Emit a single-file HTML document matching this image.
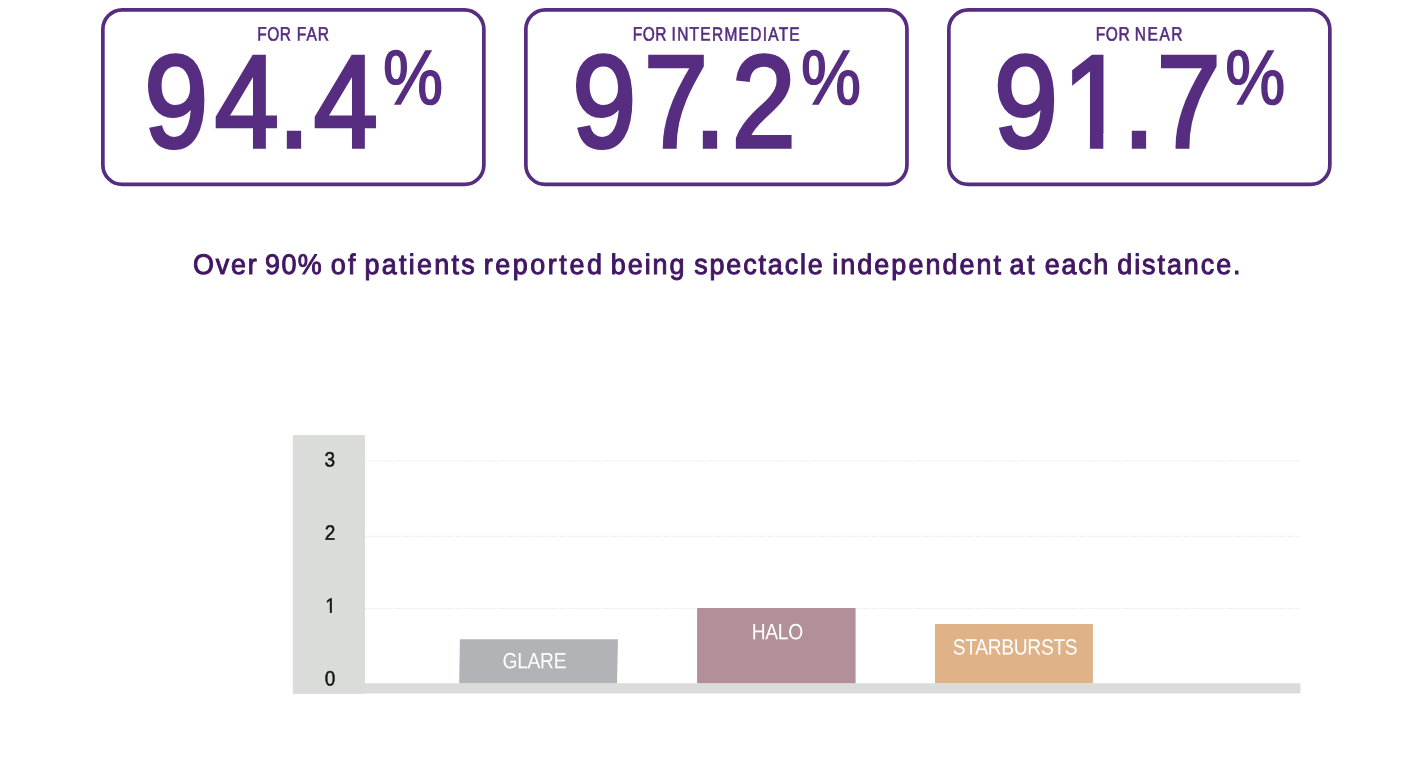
<!DOCTYPE html>
<html lang="en"><head><meta charset="utf-8"><title>Spectacle independence</title>
<style>html,body{margin:0;padding:0;background:#fff}body{width:1408px;height:770px;overflow:hidden}svg{display:block}text{white-space:pre}</style></head><body>
<svg width="1408" height="770" viewBox="0 0 1408 770">
<g class="stat-cards">
<rect x="102.85" y="9.85" width="381.00" height="174.60" rx="19.5" ry="19.5" fill="none" stroke="#562d80" stroke-width="3.7"/>
<rect x="525.85" y="9.85" width="381.10" height="174.60" rx="19.5" ry="19.5" fill="none" stroke="#562d80" stroke-width="3.7"/>
<rect x="948.85" y="9.85" width="381.00" height="174.60" rx="19.5" ry="19.5" fill="none" stroke="#562d80" stroke-width="3.7"/>
<text transform="matrix(0.8100 0.0006 0 1 0 40.58)" font-family="Liberation Sans, sans-serif" font-weight="normal" font-size="19.17" fill="#562d80" stroke="#562d80" stroke-width="0.60" stroke-linejoin="miter" stroke-miterlimit="3" ><tspan x="317.72" y="-0.191" style="letter-spacing:0.490px">FOR</tspan> <tspan x="366.39" y="-0.220" style="letter-spacing:1.258px">FAR</tspan></text>
<text transform="matrix(0.8100 0.0006 0 1 0 40.58)" font-family="Liberation Sans, sans-serif" font-weight="normal" font-size="19.17" fill="#562d80" stroke="#562d80" stroke-width="0.60" stroke-linejoin="miter" stroke-miterlimit="3" ><tspan x="781.18" y="-0.469" style="letter-spacing:0.607px">FOR</tspan> <tspan x="829.15" y="-0.497" style="letter-spacing:1.537px">INTERMEDIATE</tspan></text>
<text transform="matrix(0.8100 0.0006 0 1 0 40.58)" font-family="Liberation Sans, sans-serif" font-weight="normal" font-size="19.17" fill="#562d80" stroke="#562d80" stroke-width="0.60" stroke-linejoin="miter" stroke-miterlimit="3" ><tspan x="1352.66" y="-0.812" style="letter-spacing:0.864px">FOR</tspan> <tspan x="1401.06" y="-0.841" style="letter-spacing:1.895px">NEAR</tspan></text>
<text transform="matrix(0.8768 0.0006 0 1 0 146.80)" font-family="Liberation Sans, sans-serif" font-weight="normal" font-size="131.06" fill="#562d80" stroke="#562d80" stroke-width="3.80" stroke-linejoin="miter" stroke-miterlimit="3"  x="164.61 244.94 317.06 357.92" y="-0.099 -0.147 -0.190 -0.215">94.4</text>
<text transform="matrix(0.8768 0.0006 0 1 0 146.80)" font-family="Liberation Sans, sans-serif" font-weight="normal" font-size="131.06" fill="#562d80" stroke="#562d80" stroke-width="3.80" stroke-linejoin="miter" stroke-miterlimit="3"  x="652.72 734.57 791.59 834.54" y="-0.392 -0.441 -0.475 -0.501">97.2</text>
<text transform="matrix(0.8768 0.0006 0 1 0 146.80)" font-family="Liberation Sans, sans-serif" font-weight="normal" font-size="131.06" fill="#562d80" stroke="#562d80" stroke-width="3.80" stroke-linejoin="miter" stroke-miterlimit="3"  x="1133.81 1211.95 1280.78 1319.28" y="-0.680 -0.727 -0.768 -0.792">91.7</text>
<rect x="1068.50" y="133.94" width="21.43" height="15.56" fill="#fff"/>
<rect x="1103.32" y="133.94" width="20.28" height="15.56" fill="#fff"/>
<text transform="matrix(0.8767 0.0006 0 1 0 104.02)" font-family="Liberation Sans, sans-serif" font-weight="normal" font-size="77.02" fill="#562d80" stroke="#562d80" stroke-width="1.60" stroke-linejoin="miter" stroke-miterlimit="3"  x="436.90" y="-0.262">%</text>
<text transform="matrix(0.8767 0.0006 0 1 0 104.02)" font-family="Liberation Sans, sans-serif" font-weight="normal" font-size="77.02" fill="#562d80" stroke="#562d80" stroke-width="1.60" stroke-linejoin="miter" stroke-miterlimit="3"  x="913.53" y="-0.548">%</text>
<text transform="matrix(0.8767 0.0006 0 1 0 104.02)" font-family="Liberation Sans, sans-serif" font-weight="normal" font-size="77.02" fill="#562d80" stroke="#562d80" stroke-width="1.60" stroke-linejoin="miter" stroke-miterlimit="3"  x="1397.45" y="-0.838">%</text>
</g>
<g class="headline">
<text transform="matrix(0.9500 0.0006 0 1 0 274.02)" font-family="Liberation Sans, sans-serif" font-weight="normal" font-size="28.35" fill="#411663" stroke="#411663" stroke-width="1.00" stroke-linejoin="round" stroke-miterlimit="3" ><tspan x="203.26" y="-0.122" style="letter-spacing:1.827px">Over</tspan> <tspan x="279.06" y="-0.167" style="letter-spacing:1.476px">90%</tspan> <tspan x="348.04" y="-0.209" style="letter-spacing:2.622px">of</tspan> <tspan x="383.56" y="-0.230" style="letter-spacing:2.419px">patients</tspan> <tspan x="509.16" y="-0.305" style="letter-spacing:2.695px">reported</tspan> <tspan x="643.03" y="-0.386" style="letter-spacing:2.014px">being</tspan> <tspan x="730.73" y="-0.438" style="letter-spacing:1.955px">spectacle</tspan> <tspan x="876.07" y="-0.526" style="letter-spacing:2.157px">independent</tspan> <tspan x="1062.77" y="-0.638" style="letter-spacing:2.550px">at</tspan> <tspan x="1099.83" y="-0.660" style="letter-spacing:1.803px">each</tspan> <tspan x="1176.05" y="-0.706" style="letter-spacing:2.045px">distance.</tspan></text>
</g>
<g class="chart">
<rect x="292.8" y="435.1" width="72.20" height="258.70" fill="#dadcd9"/>
<rect x="293" y="683.3" width="1007.40" height="10.20" fill="#dadcd9"/>
<line x1="365" y1="460.9" x2="1300.4" y2="460.9" stroke="#e4e4e4" stroke-width="1" stroke-dasharray="1.3 1.3"/>
<line x1="365" y1="536.3" x2="1300.4" y2="536.3" stroke="#e4e4e4" stroke-width="1" stroke-dasharray="1.3 1.3"/>
<line x1="365" y1="608.4" x2="1300.4" y2="608.4" stroke="#e4e4e4" stroke-width="1" stroke-dasharray="1.3 1.3"/>
<polygon points="459.9,639.3 618,639.3 617,683.3 459.2,683.3" fill="#b2b3b7"/>
<polygon points="697.1,608 855.6,608 855.6,683.3 697.1,683.3" fill="#b2909a"/>
<polygon points="935,623.9 1092.9,623.9 1092.9,683.3 935,683.3" fill="#e0b288"/>
<text transform="matrix(0.8714 0.0006 0 1 0 668.27)" font-family="Liberation Sans, sans-serif" font-weight="normal" font-size="22.07" fill="#fff" ><tspan x="576.68" y="-0.346" style="letter-spacing:-0.346px">GLARE</tspan></text>
<text transform="matrix(0.8714 0.0006 0 1 0 639.27)" font-family="Liberation Sans, sans-serif" font-weight="normal" font-size="22.07" fill="#fff" ><tspan x="862.76" y="-0.518" style="letter-spacing:-0.367px">HALO</tspan></text>
<text transform="matrix(0.8714 0.0006 0 1 0 654.37)" font-family="Liberation Sans, sans-serif" font-weight="normal" font-size="22.07" fill="#fff" ><tspan x="1093.28" y="-0.656" style="letter-spacing:-0.357px">STARBURSTS</tspan></text>
<text transform="matrix(0.9176 0.0006 0 1 0 466.54)" font-family="Liberation Sans, sans-serif" font-weight="normal" font-size="20.78" fill="#161616" stroke="#161616" stroke-width="0.50" stroke-linejoin="miter" stroke-miterlimit="3"  x="353.62" y="-0.212">3</text>
<text transform="matrix(0.9176 0.0006 0 1 0 539.74)" font-family="Liberation Sans, sans-serif" font-weight="normal" font-size="20.78" fill="#161616" stroke="#161616" stroke-width="0.50" stroke-linejoin="miter" stroke-miterlimit="3"  x="353.87" y="-0.212">2</text>
<text transform="matrix(0.9176 0.0006 0 1 0 612.64)" font-family="Liberation Sans, sans-serif" font-weight="normal" font-size="20.78" fill="#161616" stroke="#161616" stroke-width="0.50" stroke-linejoin="miter" stroke-miterlimit="3"  x="354.42" y="-0.213">1</text>
<rect x="325.58" y="609.98" width="4.21" height="3.71" fill="#dadcd9"/>
<rect x="331.91" y="609.98" width="4.01" height="3.71" fill="#dadcd9"/>
<text transform="matrix(0.9176 0.0006 0 1 0 685.54)" font-family="Liberation Sans, sans-serif" font-weight="normal" font-size="20.78" fill="#161616" stroke="#161616" stroke-width="0.50" stroke-linejoin="miter" stroke-miterlimit="3"  x="353.87" y="-0.212">0</text>
</g>
</svg></body></html>
